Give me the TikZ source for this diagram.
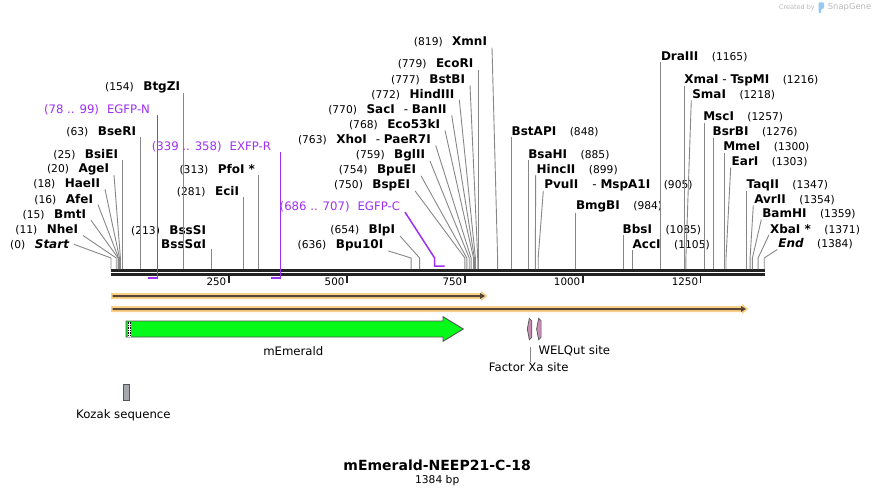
\documentclass[tikz,border=0pt]{standalone}
\usepackage{fontspec}
\setmainfont{DejaVu Sans}
\usepackage{tikz}
\usetikzlibrary{positioning}
\usepackage{xcolor}

\definecolor{cutgray}{RGB}{135,135,135}
\definecolor{backbone}{RGB}{35,35,35}
\definecolor{primerpurple}{RGB}{158,48,240}
\definecolor{orfband}{RGB}{252,208,135}
\definecolor{orfline}{RGB}{85,70,55}
\definecolor{cdsgreen}{RGB}{5,250,25}
\definecolor{sitepink}{RGB}{200,142,182}
\definecolor{kozakgray}{RGB}{165,168,172}
\definecolor{outline}{RGB}{85,85,85}
\definecolor{creditgray}{RGB}{185,185,185}
\definecolor{snapblue}{RGB}{150,200,240}

\newcommand{\cutpos}[1]{{\fontsize{10.7}{12}\selectfont(#1)}}
\newcommand{\enzname}[1]{{\bfseries #1}}

\begin{document}
\begin{tikzpicture}[x=1pt,y=-1pt,
    every node/.style={inner sep=0pt},
    lsite/.style={anchor=east,outer xsep=5pt,font=\fontsize{12}{14.3}\selectfont},
    rsite/.style={anchor=west,outer xsep=1pt,font=\fontsize{12}{14.3}\selectfont},
    primer/.style={anchor=east,outer xsep=5pt,text=primerpurple,font=\fontsize{11.7}{14}\selectfont},
    feature/.style={font=\fontsize{11.7}{14}\selectfont},
    ticklbl/.style={anchor=east,font=\fontsize{10.3}{12}\selectfont},
    cutline/.style={draw=cutgray,line width=0.9pt},
    primerline/.style={draw=primerpurple,line width=1.5pt},
    kozakbox/.style={draw=outline,fill=kozakgray,minimum width=5.7pt,minimum height=15.7pt,line width=0.8pt}]
    \useasboundingbox (0,0) rectangle (876,495);

    % sequence line and ruler
    \coordinate (seq0) at (111,272.4);
    \coordinate (seq1) at (765,272.4);
    \draw[draw=backbone,line width=2.4pt,double=white,double distance=1.8pt] (seq0) -- (seq1);
    \draw[draw=backbone,line width=1.4pt] (228.9,275.7) -- (228.9,283);
    \draw[draw=backbone,line width=1.4pt] (347.0,275.7) -- (347.0,283);
    \draw[draw=backbone,line width=1.4pt] (464.9,275.7) -- (464.9,283);
    \draw[draw=backbone,line width=1.4pt] (582.8,275.7) -- (582.8,283);
    \draw[draw=backbone,line width=1.4pt] (700.7,275.7) -- (700.7,283);
    \node(t250)[ticklbl] at (226.5,281.5) {250};
    \node(t500)[ticklbl] at (344.6,281.5) {500};
    \node(t750)[ticklbl] at (462.5,281.5) {750};
    \node(t1000)[ticklbl] at (580.4,281.5) {1000};
    \node(t1250)[ticklbl] at (698.3,281.5) {1250};

    % cut positions
    \coordinate (c0) at (111,269);
    \coordinate (c11) at (116.2,269);
    \coordinate (c15) at (118.1,269);
    \coordinate (c16) at (118.6,269);
    \coordinate (c18) at (119.5,269);
    \coordinate (c20) at (120.4,269);
    \coordinate (c25) at (122.8,269);
    \coordinate (c63) at (140.7,269);
    \coordinate (c154) at (183.7,269);
    \coordinate (c213) at (211.5,269);
    \coordinate (c281) at (243.6,269);
    \coordinate (c313) at (258.7,269);
    \coordinate (c636) at (411.1,269);
    \coordinate (c654) at (419.6,269);
    \coordinate (c750) at (464.9,269);
    \coordinate (c754) at (466.8,269);
    \coordinate (c759) at (469.2,269);
    \coordinate (c763) at (471.1,269);
    \coordinate (c768) at (473.5,269);
    \coordinate (c770) at (474.4,269);
    \coordinate (c772) at (475.4,269);
    \coordinate (c777) at (477.7,269);
    \coordinate (c779) at (478.7,269);
    \coordinate (c819) at (497.6,269);
    \coordinate (c848) at (511.1,269);
    \coordinate (c885) at (528.6,269);
    \coordinate (c899) at (535.3,269);
    \coordinate (c905) at (538.2,269);
    \coordinate (c984) at (575.4,269);
    \coordinate (c1085) at (623.1,269);
    \coordinate (c1105) at (632.6,269);
    \coordinate (c1165) at (660.9,269);
    \coordinate (c1216) at (684.9,269);
    \coordinate (c1218) at (685.9,269);
    \coordinate (c1257) at (704.3,269);
    \coordinate (c1276) at (713.3,269);
    \coordinate (c1300) at (724.6,269);
    \coordinate (c1303) at (726.0,269);
    \coordinate (c1347) at (746.8,269);
    \coordinate (c1354) at (750.1,269);
    \coordinate (c1359) at (752.4,269);
    \coordinate (c1371) at (758.1,269);
    \coordinate (c1384) at (764.2,269);

    % enzymes, left hand labels
    \node(start)[lsite] at (74,244.3) {\cutpos{0}\hspace{9.5pt}\enzname{\itshape Start}};
    \node(nhei)[lsite] at (83,230) {\cutpos{11}\hspace{9.5pt}\enzname{NheI}};
    \node(bmti)[lsite] at (91,215) {\cutpos{15}\hspace{9.5pt}\enzname{BmtI}};
    \node(afei)[lsite] at (98,199.3) {\cutpos{16}\hspace{9.5pt}\enzname{AfeI}};
    \node(haeii)[lsite] at (105,184) {\cutpos{18}\hspace{9.5pt}\enzname{HaeII}};
    \node(agei)[lsite] at (114,169.3) {\cutpos{20}\hspace{9.5pt}\enzname{AgeI}};
    \node(bsiei)[lsite] at (123,155) {\cutpos{25}\hspace{9.5pt}\enzname{BsiEI}};
    \node(bseri)[lsite] at (141,131.7) {\cutpos{63}\hspace{9.5pt}\enzname{BseRI}};
    \node(btgzi)[lsite] at (185,87.3) {\cutpos{154}\hspace{9.5pt}\enzname{BtgZI}};
    \node(bsssi)[lsite,align=right] at (211,236.8) {\cutpos{213}\hspace{9.5pt}\enzname{BssSI}\\\enzname{BssSαI}};
    \node(ecii)[lsite] at (244,192) {\cutpos{281}\hspace{9.5pt}\enzname{EciI}};
    \node(pfoi)[lsite] at (260,170) {\cutpos{313}\hspace{9.5pt}\enzname{PfoI *}};
    \node(bpu10i)[lsite] at (388.3,245) {\cutpos{636}\hspace{9.5pt}\enzname{Bpu10I}};
    \node(blpi)[lsite] at (400,230) {\cutpos{654}\hspace{9.5pt}\enzname{BlpI}};
    \node(bspei)[lsite] at (415,185) {\cutpos{750}\hspace{9.5pt}\enzname{BspEI}};
    \node(bpuei)[lsite] at (421,170) {\cutpos{754}\hspace{9.5pt}\enzname{BpuEI}};
    \node(bglii)[lsite] at (430,155) {\cutpos{759}\hspace{9.5pt}\enzname{BglII}};
    \node(xhoi)[lsite] at (435.7,140) {\cutpos{763}\hspace{9.5pt}\enzname{XhoI}\hspace{9pt}- \enzname{PaeR7I}};
    \node(eco53ki)[lsite] at (445,125) {\cutpos{768}\hspace{9.5pt}\enzname{Eco53kI}};
    \node(saci)[lsite] at (451.7,110) {\cutpos{770}\hspace{9.5pt}\enzname{SacI}\hspace{9pt}- \enzname{BanII}};
    \node(hindiii)[lsite] at (459.3,94.3) {\cutpos{772}\hspace{9.5pt}\enzname{HindIII}};
    \node(bstbi)[lsite] at (470,80) {\cutpos{777}\hspace{9.5pt}\enzname{BstBI}};
    \node(ecori)[lsite] at (478.3,64.3) {\cutpos{779}\hspace{9.5pt}\enzname{EcoRI}};
    \node(xmni)[lsite] at (492,42.3) {\cutpos{819}\hspace{9.5pt}\enzname{XmnI}};

    % enzymes, right hand labels
    \node(bstapi)[rsite] at (510.7,131.7) {\enzname{BstAPI}\hspace{13.5pt}\cutpos{848}};
    \node(bsahi)[rsite] at (527.3,155) {\enzname{BsaHI}\hspace{13.5pt}\cutpos{885}};
    \node(hincii)[rsite] at (535.7,169.3) {\enzname{HincII}\hspace{13.5pt}\cutpos{899}};
    \node(pvuii)[rsite] at (543.3,185) {\enzname{PvuII}\hspace{14pt}- \enzname{MspA1I}\hspace{13.5pt}\cutpos{905}};
    \node(bmgbi)[rsite] at (575,206.7) {\enzname{BmgBI}\hspace{13.5pt}\cutpos{984}};
    \node(bbsi)[rsite] at (621.7,229.3) {\enzname{BbsI}\hspace{13.5pt}\cutpos{1085}};
    \node(acci)[rsite] at (631.7,245) {\enzname{AccI}\hspace{13.5pt}\cutpos{1105}};
    \node(draiii)[rsite] at (660,56.7) {\enzname{DraIII}\hspace{13.5pt}\cutpos{1165}};
    \node(xmai)[rsite] at (683.3,80) {\enzname{XmaI} - \enzname{TspMI}\hspace{13.5pt}\cutpos{1216}};
    \node(smai)[rsite] at (691.3,95) {\enzname{SmaI}\hspace{13.5pt}\cutpos{1218}};
    \node(msci)[rsite] at (702.3,117.3) {\enzname{MscI}\hspace{13.5pt}\cutpos{1257}};
    \node(bsrbi)[rsite] at (711.7,132.3) {\enzname{BsrBI}\hspace{13.5pt}\cutpos{1276}};
    \node(mmei)[rsite] at (722.3,147.3) {\enzname{MmeI}\hspace{13.5pt}\cutpos{1300}};
    \node(eari)[rsite] at (730.7,162.3) {\enzname{EarI}\hspace{13.5pt}\cutpos{1303}};
    \node(taqii)[rsite] at (745.7,185) {\enzname{TaqII}\hspace{13.5pt}\cutpos{1347}};
    \node(avrii)[rsite] at (753.3,200) {\enzname{AvrII}\hspace{13.5pt}\cutpos{1354}};
    \node(bamhi)[rsite] at (761.3,214.3) {\enzname{BamHI}\hspace{13.5pt}\cutpos{1359}};
    \node(xbai)[rsite] at (769,229.3) {\enzname{XbaI *}\hspace{13.5pt}\cutpos{1371}};
    \node(endsite)[rsite] at (777.3,244) {\enzname{\itshape End}\hspace{13.5pt}\cutpos{1384}};

    % connectors to the cut positions
    \draw[cutline] (start.east) -- ([yshift=11pt]c0) -- (c0);
    \draw[cutline] (nhei.south east) -- ([yshift=11pt]c11) -- (c11);
    \draw[cutline] (bmti.south east) -- ([yshift=11pt]c15) -- (c15);
    \draw[cutline] (afei.south east) -- ([yshift=11pt]c16) -- (c16);
    \draw[cutline] (haeii.south east) -- ([yshift=11pt]c18) -- (c18);
    \draw[cutline] (agei.south east) -- ([yshift=11pt]c20) -- (c20);
    \draw[cutline] (bsiei.south east -| c25) -- (c25);
    \draw[cutline] (bseri.south east -| c63) -- (c63);
    \draw[cutline] (btgzi.south east -| c154) -- (c154);
    \draw[cutline] (bsssi.south east -| c213) -- (c213);
    \draw[cutline] (ecii.south east -| c281) -- (c281);
    \draw[cutline] (pfoi.south east -| c313) -- (c313);
    \draw[cutline] (bpu10i.south east) -- ([yshift=11pt]c636) -- (c636);
    \draw[cutline] (blpi.south east) -- ([yshift=11pt]c654) -- (c654);
    \draw[cutline] (bspei.south east) -- ([yshift=11pt]c750) -- (c750);
    \draw[cutline] (bpuei.south east) -- ([yshift=11pt]c754) -- (c754);
    \draw[cutline] (bglii.south east) -- ([yshift=11pt]c759) -- (c759);
    \draw[cutline] (xhoi.south east) -- ([yshift=11pt]c763) -- (c763);
    \draw[cutline] (eco53ki.south east) -- ([yshift=11pt]c768) -- (c768);
    \draw[cutline] (saci.south east) -- ([yshift=11pt]c770) -- (c770);
    \draw[cutline] (hindiii.south east) -- ([yshift=11pt]c772) -- (c772);
    \draw[cutline] (bstbi.south east) -- ([yshift=11pt]c777) -- (c777);
    \draw[cutline] (ecori.south east -| c779) -- (c779);
    \draw[cutline] (xmni.south east) -- ([yshift=11pt]c819) -- (c819);
    \draw[cutline] (bstapi.south west -| c848) -- (c848);
    \draw[cutline] (bsahi.south west -| c885) -- (c885);
    \draw[cutline] (hincii.south west) -- ([yshift=11pt]c899) -- (c899);
    \draw[cutline] (pvuii.south west) -- ([yshift=11pt]c905) -- (c905);
    \draw[cutline] (bmgbi.south west -| c984) -- (c984);
    \draw[cutline] (bbsi.south west -| c1085) -- (c1085);
    \draw[cutline] (acci.south west -| c1105) -- (c1105);
    \draw[cutline] (draiii.south west -| c1165) -- (c1165);
    \draw[cutline] (xmai.south west -| c1216) -- (c1216);
    \draw[cutline] (smai.south west) -- ([yshift=11pt]c1218) -- (c1218);
    \draw[cutline] (msci.south west -| c1257) -- (c1257);
    \draw[cutline] (bsrbi.south west -| c1276) -- (c1276);
    \draw[cutline] (mmei.south west -| c1300) -- (c1300);
    \draw[cutline] (eari.south west) -- ([yshift=11pt]c1303) -- (c1303);
    \draw[cutline] (taqii.south west -| c1347) -- (c1347);
    \draw[cutline] (avrii.south west) -- ([yshift=11pt]c1354) -- (c1354);
    \draw[cutline] (bamhi.south west) -- ([yshift=11pt]c1359) -- (c1359);
    \draw[cutline] (xbai.south west) -- ([yshift=11pt]c1371) -- (c1371);
    \draw[cutline] (endsite.south west) -- ([yshift=11pt]c1384) -- (c1384);

    % primers
    \node(egfpn)[primer] at (155,110) {(78 .. 99)\hspace{8pt}EGFP-N};
    \node(exfpr)[primer] at (276,147) {(339 .. 358)\hspace{8pt}EXFP-R};
    \node(egfpc)[primer] at (405,206.7) {(686 .. 707)\hspace{8pt}EGFP-C};
    \coordinate (pn1) at (147.8,278);
    \coordinate (pn2) at (157.7,278);
    \coordinate (pr1) at (271,278);
    \coordinate (pr2) at (280.4,278);
    \coordinate (pc1) at (434.6,266);
    \coordinate (pc2) at (444.5,266);
    \draw[primerline] (egfpn.south east -| pn2) -- (pn2) -- (pn1);
    \draw[primerline] (exfpr.south east -| pr2) -- (pr2) -- (pr1);
    \draw[primerline] (egfpc.south east) -- ([yshift=8pt]pc1) -- (pc1) -- (pc2);

    % open reading frames
    \fill[orfband] (111,293) -- (481,293) -- (481,291) -- (487.3,296) -- (481,301) -- (481,299) -- (111,299) -- cycle;
    \fill[orfline] (112.7,295) -- (480,295) -- (480,293) -- (485,296) -- (480,299) -- (480,297) -- (112.7,297) -- cycle;
    \fill[orfband] (111,306) -- (742,306) -- (742,304) -- (748.3,309) -- (742,314) -- (742,312) -- (111,312) -- cycle;
    \fill[orfline] (112.7,308) -- (741,308) -- (741,306) -- (746,309) -- (741,312) -- (741,310) -- (112.7,310) -- cycle;

    % features
    \draw[fill=cdsgreen,draw=outline,line width=0.9pt] (126,321) -- (443,321) -- (443,316.7) -- (463.3,329) -- (443,341.3) -- (443,337) -- (126,337) -- cycle;
    \fill[white] (127.8,321.5) rectangle (130.8,336.5);
    \draw[densely dotted,line width=0.7pt] (128.2,321.5) -- (128.2,336.5) (130.4,321.5) -- (130.4,336.5);
    \node(memerald)[feature] at (293.3,351) {mEmerald};

    \draw[fill=sitepink,draw=outline,line width=0.7pt] (527.3,329) -- (529.3,318.3) -- (531.8,320.8) -- (531.8,337.2) -- (529.3,339.7) -- cycle;
    \draw[fill=sitepink,draw=outline,line width=0.7pt] (536.6,329) -- (538.6,318.3) -- (541.1,320.8) -- (541.1,337.2) -- (538.6,339.7) -- cycle;
    \coordinate (fxa) at (530,346.5);
    \node(fxalbl)[feature] at (528.7,366.7) {Factor Xa site};
    \node(welqlbl)[feature,anchor=west] at (538.3,350.7) {WELQut site};
    \draw[cutline] (fxa) -- (fxa |- fxalbl.north);

    \node(kozak)[kozakbox] at (126.2,392.2) {};
    \node(kozaklbl)[feature,below=9pt of kozak,xshift=-2.8pt] {Kozak sequence};

    % title
    \node(title)[font=\fontsize{14}{16}\selectfont\bfseries] at (437.2,465) {mEmerald-NEEP21-C-18};
    \node(bplen)[below=4.8pt of title,font=\fontsize{10.7}{12}\selectfont] {1384 bp};

    % credit
    \node(credit)[anchor=east,text=creditgray,font=\fontsize{6.5}{8}\selectfont] at (815,7.5) {Created by};
    \fill[snapblue,rounded corners=0.8pt] (818.5,2.5) -- (824,2.5) -- (824,8) -- (821.2,9.5) -- (821.2,13) -- (818.5,13) -- cycle;
    \node(brand)[anchor=west,text=creditgray,font=\fontsize{8.4}{10}\selectfont] at (827.7,7.3) {SnapGene};
\end{tikzpicture}
\end{document}
